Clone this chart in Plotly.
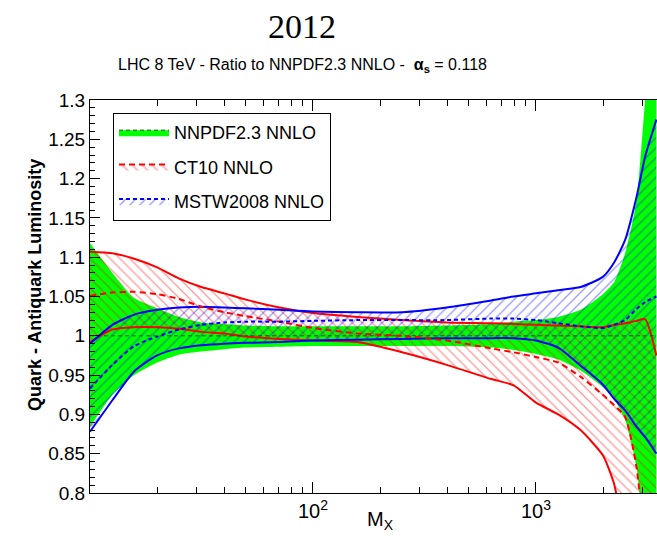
import plotly.graph_objects as go

# ---------------- data ----------------
mass = [10, 12.6, 15.8, 20, 25, 31.6, 40, 50, 70.8, 100, 158, 251, 398, 631, 794,
        1000, 1259, 1585, 1995, 2239, 2512, 2818, 3090, 3470]

nnpdf_up = [1.118, 1.080, 1.048, 1.035, 1.024, 1.017, 1.015, 1.013, 1.012, 1.012, 1.012, 1.012,
            1.013, 1.015, 1.018, 1.020, 1.024, 1.033, 1.053, 1.068, 1.105, 1.170, 1.300, 1.450]
nnpdf_lo = [0.884, 0.925, 0.950, 0.966, 0.976, 0.980, 0.983, 0.985, 0.986, 0.987, 0.987, 0.987,
            0.987, 0.985, 0.982, 0.977, 0.970, 0.956, 0.935, 0.920, 0.893, 0.835, 0.730, 0.650]
nnpdf_c = [1.0] * len(mass)

ct10_up = [1.107, 1.105, 1.098, 1.087, 1.073, 1.062, 1.054, 1.046, 1.036, 1.029, 1.024, 1.020,
           1.017, 1.016, 1.015, 1.014, 1.013, 1.012, 1.011, 1.0137, 1.016, 1.019, 1.021, 0.975]
ct10_c = [1.051, 1.055, 1.056, 1.053, 1.047, 1.037, 1.030, 1.025, 1.018, 1.010, 1.003, 1.000,
          0.994, 0.984, 0.979, 0.973, 0.966, 0.948, 0.925, 0.912, 0.897, 0.835, 0.740, 0.680]
ct10_lo = [0.992, 1.008, 1.011, 1.011, 1.009, 1.005, 1.003, 0.999, 0.996, 0.994, 0.992, 0.979,
           0.963, 0.945, 0.937, 0.915, 0.900, 0.880, 0.848, 0.812, 0.740, 0.680, 0.630, 0.580]

mstw_up = [0.990, 1.014, 1.027, 1.033, 1.036, 1.037, 1.036, 1.035, 1.033, 1.031, 1.030, 1.030,
           1.036, 1.045, 1.050, 1.054, 1.058, 1.062, 1.075, 1.093, 1.122, 1.175, 1.228, 1.275]
mstw_c = [0.933, 0.963, 0.987, 0.999, 1.008, 1.014, 1.017, 1.018, 1.018, 1.019, 1.020, 1.020,
          1.020, 1.022, 1.022, 1.020, 1.016, 1.012, 1.010, 1.014, 1.020, 1.034, 1.043, 1.050]
mstw_lo = [0.878, 0.918, 0.955, 0.975, 0.984, 0.988, 0.990, 0.991, 0.992, 0.994, 0.995, 0.996,
           0.997, 0.997, 0.997, 0.994, 0.985, 0.962, 0.938, 0.920, 0.905, 0.885, 0.871, 0.850]

names = ["NNPDF2.3 NNLO", "CT10 NNLO", "MSTW2008 NNLO"]

x_tick_vals = [100, 1000]
x_tick_text = ["10<sup>2</sup>", "10<sup>3</sup>"]
x_minor_vals = [20, 30, 40, 50, 60, 70, 80, 90, 200, 300, 400, 500, 600, 700, 800, 900, 2000, 3000]

# ---------------- styles ----------------
GREEN = "#00ff00"
RED = "#ff0000"
BLUE = "#0000ff"
DARKG = "#145214"
FONT = "Liberation Sans, Arial, Helvetica, sans-serif"
SMOOTH = 0.6

ct_pattern = dict(shape="\\", fgcolor=RED, fgopacity=0.4, size=7, solidity=0.18,
                  bgcolor="rgba(0,0,0,0)")
ms_pattern = dict(shape="/", fgcolor=BLUE, fgopacity=0.4, size=7, solidity=0.18,
                  bgcolor="rgba(0,0,0,0)")
CLEAR = "rgba(0,0,0,0)"

fig = go.Figure()


def band(up, lo, **fillkw):
    fig.add_trace(go.Scatter(x=mass, y=up, mode="lines",
                             line=dict(width=0, shape="spline", smoothing=SMOOTH),
                             showlegend=False, hoverinfo="skip"))
    fig.add_trace(go.Scatter(x=mass, y=lo, mode="lines",
                             line=dict(width=0, shape="spline", smoothing=SMOOTH),
                             fill="tonexty", showlegend=False, hoverinfo="skip", **fillkw))


def line(y, color, width=2, dash="solid"):
    fig.add_trace(go.Scatter(x=mass, y=y, mode="lines",
                             line=dict(color=color, width=width, dash=dash,
                                       shape="spline", smoothing=SMOOTH),
                             showlegend=False, hoverinfo="skip"))


# fills
band(nnpdf_up, nnpdf_lo, fillcolor=GREEN)
band(ct10_up, ct10_lo, fillcolor=CLEAR, fillpattern=ct_pattern)
band(mstw_up, mstw_lo, fillcolor=CLEAR, fillpattern=ms_pattern)

# boundary lines
line(ct10_up, RED)
line(ct10_lo, RED)
line(mstw_up, BLUE)
line(mstw_lo, BLUE)


# central lines (also used as legend entries: zero-area fill gives the legend swatch)
def central(y, color, dash, width, name, fillkw):
    fig.add_trace(go.Scatter(x=mass, y=y, mode="lines",
                             line=dict(width=0, shape="spline", smoothing=SMOOTH),
                             showlegend=False, hoverinfo="skip"))
    fig.add_trace(go.Scatter(x=mass, y=y, mode="lines", name=name, legendgroup=name,
                             line=dict(color=color, width=width, dash=dash,
                                       shape="spline", smoothing=SMOOTH),
                             fill="tonexty", hoverinfo="skip", **fillkw))


central(nnpdf_c, DARKG, "4px,3px", 1, names[0], dict(fillcolor=GREEN))
central(ct10_c, RED, "6px,4px", 2, names[1], dict(fillcolor=CLEAR, fillpattern=ct_pattern))
central(mstw_c, BLUE, "4px,3px", 2, names[2], dict(fillcolor=CLEAR, fillpattern=ms_pattern))

fig.update_layout(
    width=657, height=536,
    margin=dict(l=90, r=0, t=100, b=43),
    paper_bgcolor="white", plot_bgcolor="white",
    font=dict(family=FONT, color="black"),
    showlegend=True,
    legend=dict(x=0.0406, y=0.967, xanchor="left", yanchor="top",
                bordercolor="black", borderwidth=1, bgcolor="white",
                font=dict(size=18, family=FONT), itemwidth=50, tracegroupgap=8),
    annotations=[
        dict(text="2012", xref="paper", yref="paper", x=0.374, y=1.186,
             showarrow=False, xanchor="center", yanchor="middle",
             font=dict(family="Liberation Serif, Times New Roman, serif", size=34)),
        dict(text="LHC 8 TeV - Ratio to NNPDF2.3 NNLO - \u00a0<b>\u03b1<sub>s</sub></b> = 0.118",
             xref="paper", yref="paper", x=0.374, y=1.089, showarrow=False,
             xanchor="center", yanchor="middle", font=dict(size=16)),
        dict(text="<b>Quark - Antiquark Luminosity</b>", xref="paper", yref="paper",
             x=-0.097, y=0.529, textangle=-90, showarrow=False,
             xanchor="center", yanchor="middle", font=dict(size=18)),
        dict(text="M<sub>X</sub>", xref="paper", yref="paper", x=0.513, y=-0.071,
             showarrow=False, xanchor="center", yanchor="middle", font=dict(size=20)),
    ],
)

fig.update_xaxes(type="log", range=[1.0, 3.543], tickmode="array",
                 tickvals=x_tick_vals, ticktext=x_tick_text,
                 ticks="inside", ticklen=11, tickwidth=1, tickcolor="black",
                 showline=True, linecolor="black", linewidth=1, mirror="ticks",
                 showgrid=False, zeroline=False, tickfont=dict(size=20),
                 minor=dict(tickmode="array", tickvals=x_minor_vals, ticks="inside",
                            ticklen=6, tickcolor="black", showgrid=False))
fig.update_yaxes(range=[0.8, 1.3], tick0=0.8, dtick=0.05,
                 ticks="inside", ticklen=10, tickwidth=1, tickcolor="black",
                 showline=True, linecolor="black", linewidth=1, mirror=False,
                 showgrid=False, zeroline=False, tickfont=dict(size=19),
                 minor=dict(tick0=0.8, dtick=0.01, ticks="inside", ticklen=5,
                            tickcolor="black", showgrid=False))

fig.write_html("out.html")
